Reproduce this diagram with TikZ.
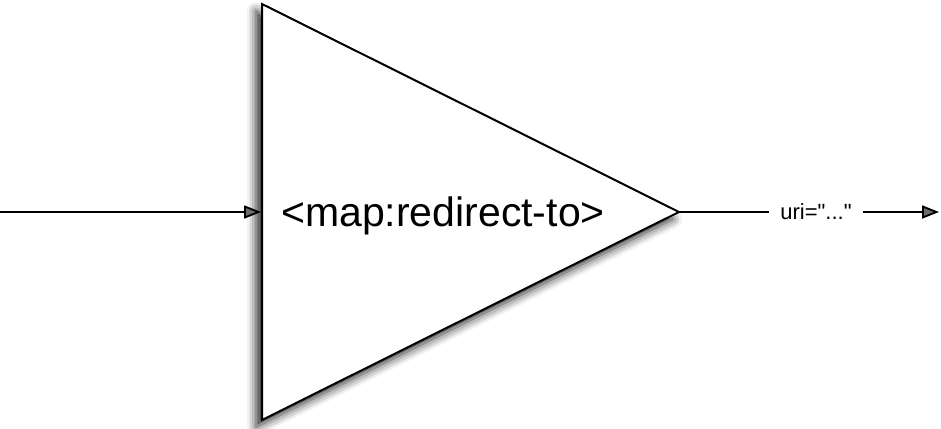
\documentclass[tikz,border=0pt]{standalone}
\usepackage{fontspec}
\setmainfont{Liberation Sans}[Ligatures=TeXOff]
\usetikzlibrary{shadows.blur,arrows.meta}
\begin{document}
\begin{tikzpicture}[x=1pt,y=-1pt,
  conn/.style={line width=1.8pt},
  tipped/.style={-{Triangle[length=17pt,width=13pt]}},
  tri/.style={line width=2pt, fill=white, line join=miter,
    blur shadow={shadow xshift=-6pt, shadow yshift=-7pt, shadow blur radius=9pt, shadow opacity=85}},
  mainlbl/.style={inner sep=0pt, font=\fontsize{41}{48}\selectfont},
  lbl/.style={inner ysep=0pt, inner xsep=11pt, font=\fontsize{22}{26}\selectfont}]
\useasboundingbox (0,0) rectangle (941,428);
\coordinate (tl) at (262,4);
\coordinate (apex) at (679,212);
\coordinate (bl) at (262,420);
\coordinate (in) at (0,212);
\coordinate (entry) at (261,212);
\coordinate (out) at (939,212);
\draw[tri] (tl) -- (apex) -- (bl) -- cycle;
\node[mainlbl, anchor=base] (name) at (443,226) {<map:redirect-to>};
\node[lbl] (uri) at (816,212) {uri="..."};
\draw[conn,tipped] (in) -- (entry);
\draw[conn] (apex) -- (uri.west);
\draw[conn,tipped] (uri.east) -- (out);
\end{tikzpicture}
\end{document}
